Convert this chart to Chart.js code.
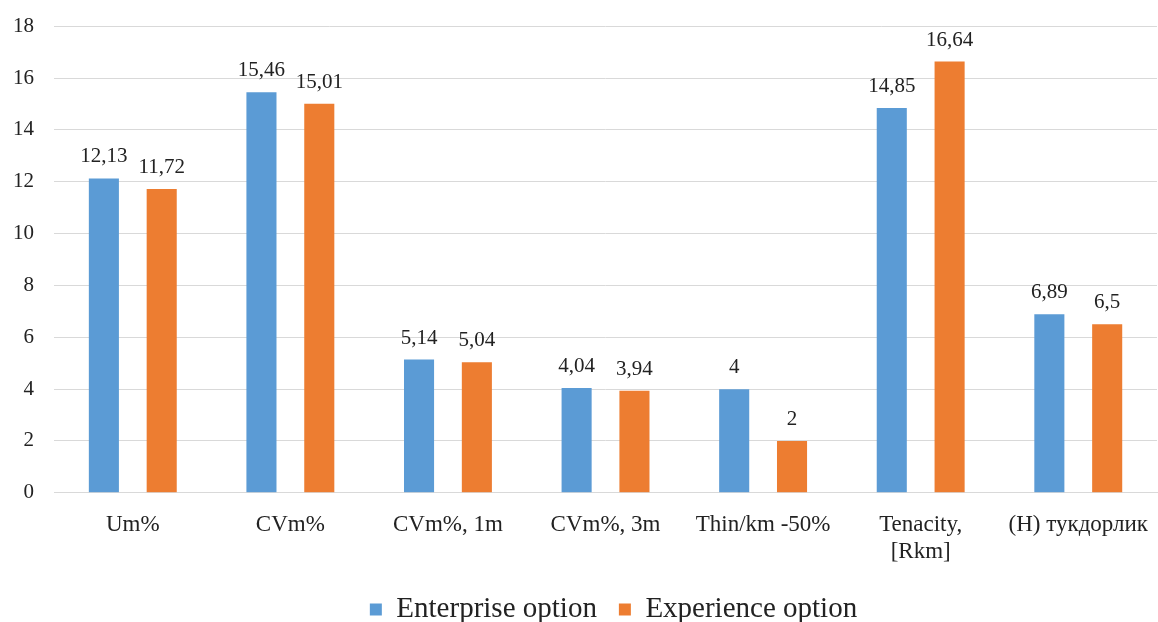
<!DOCTYPE html>
<html>
<head>
<meta charset="utf-8">
<script src="https://cdn.jsdelivr.net/npm/chart.js@4"></script>
<style>
  html, body { margin: 0; padding: 0; background: #fff; }
  #wrap { width: 1158px; height: 622px; }
</style>
</head>
<body>
<div id="wrap"><canvas id="barChart"></canvas></div>
<script>
const categories = ["Um%", "CVm%", "CVm%, 1m", "CVm%, 3m", "Thin/km -50%", ["Tenacity,", "[Rkm]"], "(H) тукдорлик"];
const enterprise = [12.13, 15.46, 5.14, 4.04, 4, 14.85, 6.89];
const experience = [11.72, 15.01, 5.04, 3.94, 2, 16.64, 6.5];
const yTicks = [0, 2, 4, 6, 8, 10, 12, 14, 16, 18];

const fontFamily = "'Liberation Serif', 'Times New Roman', serif";

// draws value labels above each bar, comma as decimal separator
const valueLabels = {
    id: "valueLabels",
    afterDatasetsDraw(chart) {
        const ctx = chart.ctx;
        ctx.save();
        ctx.font = "21px " + fontFamily;
        ctx.fillStyle = "#222";
        ctx.textAlign = "center";
        ctx.textBaseline = "alphabetic";
        chart.data.datasets.forEach((ds, i) => {
            chart.getDatasetMeta(i).data.forEach((bar, j) => {
                ctx.fillText(String(ds.data[j]).replace(".", ","), bar.x, bar.y - 16);
            });
        });
        ctx.restore();
    }
};

// legend sits centred under the plot area rather than the whole canvas
const legendShift = {
    id: "legendShift",
    afterLayout(chart) {
        const lg = chart.legend;
        lg.left += 32;
        lg.right += 32;
        lg.top -= 3;
        lg.bottom -= 3;
    }
};

new Chart(document.getElementById("barChart"), {
    type: "bar",
    data: {
        labels: categories,
        datasets: [{
            label: "Enterprise option",
            data: enterprise,
            backgroundColor: "#5B9BD5"
        }, {
            label: "Experience option",
            data: experience,
            backgroundColor: "#ED7D31"
        }]
    },
    options: {
        responsive: true,
        maintainAspectRatio: false,
        animation: false,
        layout: { padding: { top: 0, right: -12, left: -7, bottom: -15 } },
        datasets: {
            bar: { categoryPercentage: 0.734, barPercentage: 0.52 }
        },
        plugins: {
            legend: {
                position: "bottom",
                labels: {
                    boxWidth: 12,
                    boxHeight: 12,
                    padding: 22,
                    color: "#222",
                    font: { family: fontFamily, size: 29 }
                }
            },
            tooltip: { enabled: false }
        },
        scales: {
            x: {
                grid: { display: false },
                border: { color: "#d9d9d9", width: 1 },
                ticks: {
                    color: "#222",
                    padding: 10,
                    maxRotation: 0,
                    autoSkip: false,
                    font: { family: fontFamily, size: 23, lineHeight: 1.2 }
                }
            },
            y: {
                min: 0,
                max: 18,
                afterBuildTicks: axis => { axis.ticks = yTicks.map(v => ({ value: v })); },
                grid: { color: "#d9d9d9", drawTicks: false },
                border: { display: false },
                ticks: {
                    color: "#222",
                    padding: 20,
                    font: { family: fontFamily, size: 21, lineHeight: 0.6 }
                }
            }
        }
    },
    plugins: [valueLabels, legendShift]
});
</script>
</body>
</html>
